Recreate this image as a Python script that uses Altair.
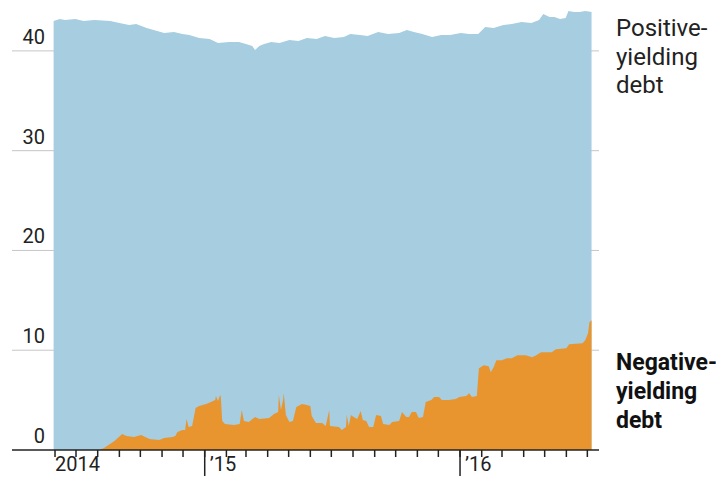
import altair as alt
import pandas as pd

# Negative-yielding debt (trillions $)
neg_dates = ["2014-05-30","2014-08-03","2014-08-10","2014-08-25","2014-09-05","2014-09-11","2014-09-22",
             "2014-10-02","2014-10-14","2014-10-28","2014-11-04","2014-11-16","2014-11-20","2014-11-23",
             "2014-11-30","2014-12-04","2014-12-06","2014-12-09","2014-12-14","2014-12-19","2014-12-24",
             "2015-01-03","2015-01-10","2015-01-16","2015-01-17","2015-01-20","2015-01-23","2015-01-24",
             "2015-01-26","2015-01-30","2015-02-12","2015-02-20","2015-02-23","2015-02-26","2015-03-05",
             "2015-03-14","2015-03-20","2015-04-03","2015-04-10","2015-04-16","2015-04-17","2015-04-20",
             "2015-04-23","2015-04-24","2015-04-27","2015-05-02","2015-05-07","2015-05-12","2015-05-20",
             "2015-05-27","2015-06-01","2015-06-03","2015-06-09","2015-06-18","2015-06-23","2015-06-28",
             "2015-06-29","2015-07-12","2015-07-16","2015-07-22","2015-07-23","2015-07-26","2015-07-29",
             "2015-08-02","2015-08-07","2015-08-12","2015-08-15","2015-08-20","2015-08-24","2015-08-30",
             "2015-09-03","2015-09-10","2015-09-13","2015-09-22","2015-09-26","2015-10-06","2015-10-10",
             "2015-10-16","2015-10-20","2015-10-24","2015-10-30","2015-11-03","2015-11-09","2015-11-13",
             "2015-11-21","2015-11-25","2015-12-02","2015-12-06","2015-12-16","2015-12-26","2015-12-31",
             "2016-01-10","2016-01-14","2016-01-18","2016-01-25","2016-01-28","2016-02-04","2016-02-11",
             "2016-02-14","2016-02-18","2016-02-22","2016-03-01","2016-03-08","2016-03-15","2016-03-23",
             "2016-04-04","2016-04-13","2016-04-19","2016-04-26","2016-05-11","2016-05-17","2016-06-01",
             "2016-06-05","2016-06-24","2016-06-28","2016-07-02","2016-07-04","2016-07-07"]
neg_values = [0.0,0.0,0.2,0.9,1.6,1.4,1.3,
              1.5,1.1,1.0,1.2,1.3,1.4,1.8,
              2.0,2.0,3.1,2.3,2.4,4.2,4.4,
              4.6,4.8,5.0,5.4,4.9,5.5,5.3,
              2.9,2.6,2.5,2.6,4.0,2.9,2.8,
              3.3,3.1,3.2,3.6,3.8,5.5,4.0,
              5.0,5.7,3.5,2.8,2.9,4.3,4.6,
              4.5,4.4,3.4,2.7,2.7,2.4,4.0,
              2.4,2.3,2.0,2.3,3.5,2.4,3.5,
              3.3,3.1,3.9,3.0,2.9,2.3,2.3,
              3.5,3.4,2.6,2.5,2.8,2.9,3.8,
              3.3,3.3,3.8,3.8,3.2,3.3,4.8,
              5.0,5.3,5.3,5.0,5.0,5.1,5.3,
              5.4,5.7,5.3,5.4,8.2,8.5,8.4,
              7.8,8.3,9.0,9.0,9.2,9.2,9.5,
              9.5,9.3,9.5,9.8,9.8,10.1,10.2,
              10.6,10.7,11.0,11.7,12.8,13.0]

# Total debt (top of positive-yielding area)
tot_dates = ["2014-05-30","2014-06-08","2014-06-15","2014-06-30","2014-07-12","2014-07-27","2014-08-19",
             "2014-09-01","2014-09-15","2014-09-25","2014-10-10","2014-10-20","2014-11-04","2014-11-18",
             "2014-11-30","2014-12-10","2014-12-24","2015-01-08","2015-01-20","2015-02-05","2015-02-19",
             "2015-03-01","2015-03-10","2015-03-14","2015-03-20","2015-03-27","2015-04-06","2015-04-18",
             "2015-05-02","2015-05-15","2015-05-27","2015-06-10","2015-06-22","2015-07-05","2015-07-19",
             "2015-07-28","2015-08-11","2015-08-22","2015-09-06","2015-09-20","2015-10-06","2015-10-17",
             "2015-10-27","2015-11-08","2015-11-22","2015-12-05","2015-12-18","2016-01-02","2016-01-14",
             "2016-01-27","2016-02-06","2016-02-18","2016-03-03","2016-03-15","2016-03-29","2016-04-12",
             "2016-04-23","2016-04-29","2016-05-08","2016-05-15","2016-05-23","2016-05-31","2016-06-04",
             "2016-06-12","2016-06-20","2016-06-28","2016-07-07"]
tot_values = [43.0,43.2,43.1,43.2,43.0,43.1,43.0,
              42.8,42.6,42.7,42.3,42.1,41.8,41.9,
              41.7,41.6,41.3,41.2,40.8,40.9,40.9,
              40.7,40.5,40.1,40.5,40.7,40.9,40.8,
              41.1,41.0,41.3,41.2,41.5,41.3,41.4,
              41.7,41.6,41.5,41.9,41.7,41.8,42.1,
              41.9,41.7,41.4,41.6,41.6,41.8,41.7,
              41.7,42.4,42.3,42.6,42.7,42.9,42.8,
              43.1,43.7,43.4,43.4,43.2,43.3,44.0,
              43.9,43.9,44.0,43.9]

y_labels = [0, 10, 20, 30, 40]
grid_values = [10, 20, 30, 40]
month_ticks = ["2014-06-01","2014-07-01","2014-08-01","2014-09-01","2014-10-01","2014-11-01","2014-12-01",
               "2015-01-01","2015-02-01","2015-03-01","2015-04-01","2015-05-01","2015-06-01","2015-07-01",
               "2015-08-01","2015-09-01","2015-10-01","2015-11-01","2015-12-01","2016-01-01","2016-02-01",
               "2016-03-01","2016-04-01","2016-05-01","2016-06-01","2016-07-01"]
year_ticks = ["2015-01-01", "2016-01-01"]
first_label_date = ["2014-06-01"]
first_label_text = ["2014"]
year_label_dates = ["2015-01-01", "2016-01-01"]
year_label_texts = ["\u201915", "\u201916"]

W, H = 587, 441
FONT = "Roboto"
INK = "#222222"

x_scale = alt.Scale(type="utc", domain=[alt.DateTime(year=2014, month=3, date=31, hours=12, utc=True),
                                       alt.DateTime(year=2016, month=7, date=17, hours=16, utc=True)])
y_scale = alt.Scale(domain=[0, 44.2], nice=False, zero=True)

neg_df = pd.DataFrame({"date": neg_dates, "value": neg_values})
tot_df = pd.DataFrame({"date": tot_dates, "value": tot_values})

X = alt.X("date:T", scale=x_scale, axis=None)

grid = alt.Chart(pd.DataFrame({"v": grid_values})).mark_rule(color="#c6c6c6", strokeWidth=1).encode(
    y=alt.Y("v:Q", scale=y_scale, axis=None), x=alt.value(0), x2=alt.value(W))

blue = alt.Chart(tot_df).mark_area(color="#a6cde0", opacity=1).encode(
    x=X, y=alt.Y("value:Q", scale=y_scale, axis=None))

orange = alt.Chart(neg_df).mark_area(color="#e9952f", opacity=1).encode(
    x=X, y=alt.Y("value:Q", scale=y_scale, axis=None))

axis_line = alt.Chart(pd.DataFrame({"v": [0]})).mark_rule(color=INK, strokeWidth=1.5).encode(
    y=alt.Y("v:Q", scale=y_scale, axis=None), x=alt.value(0), x2=alt.value(W))

minor = alt.Chart(pd.DataFrame({"date": month_ticks})).mark_rule(color=INK, strokeWidth=1.5).encode(
    x=X, y=alt.value(H), y2=alt.value(H + 7))

major = alt.Chart(pd.DataFrame({"date": year_ticks})).mark_rule(color=INK, strokeWidth=1.5).encode(
    x=X, y=alt.value(H), y2=alt.value(H + 30))

first_lab = alt.Chart(pd.DataFrame({"date": first_label_date, "label": first_label_text})).mark_text(
    align="left", baseline="alphabetic", font=FONT, fontSize=20, color=INK, dx=0).encode(
    x=X, y=alt.value(H + 21), text="label:N")

year_lab = alt.Chart(pd.DataFrame({"date": year_label_dates, "label": year_label_texts})).mark_text(
    align="left", baseline="alphabetic", font=FONT, fontSize=20, color=INK, dx=5).encode(
    x=X, y=alt.value(H + 21), text="label:N")

ylab = alt.Chart(pd.DataFrame({"v": y_labels})).mark_text(
    align="right", baseline="alphabetic", font=FONT, fontSize=20, color=INK, dy=-7).encode(
    x=alt.value(33), y=alt.Y("v:Q", scale=y_scale, axis=None), text="v:Q")

pos_note = alt.Chart(pd.DataFrame({"t": ["Positive-\nyielding\ndebt"]})).mark_text(
    align="left", baseline="alphabetic", font=FONT, fontSize=24, lineBreak="\n", lineHeight=28.5,
    color=INK).encode(x=alt.value(604), y=alt.value(27), text="t:N")

neg_note = alt.Chart(pd.DataFrame({"t": ["Negative-\nyielding\ndebt"]})).mark_text(
    align="left", baseline="alphabetic", font=FONT, fontSize=23, fontWeight="bold", lineBreak="\n",
    lineHeight=29, color="#111111").encode(x=alt.value(604), y=alt.value(361), text="t:N")

chart = alt.layer(grid, blue, orange, axis_line, minor, major, first_lab, year_lab, ylab,
                  pos_note, neg_note).properties(
    width=W, height=H, autosize="none",
    padding={"left": 4, "top": 1, "right": 117, "bottom": 26},
    background="white",
).configure_view(stroke=None)

chart.save("out.html", embed_options={"renderer": "svg", "actions": False})
